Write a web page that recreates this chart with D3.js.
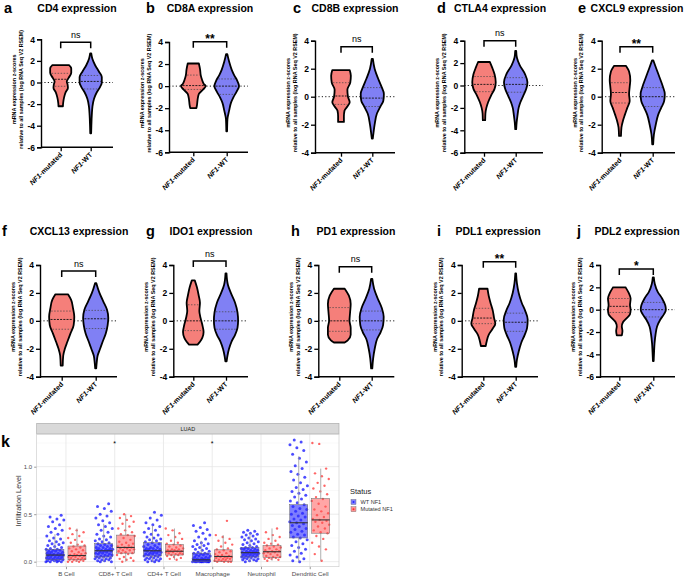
<!DOCTYPE html>
<html><head><meta charset="utf-8">
<script src="https://cdn.jsdelivr.net/npm/d3@7"></script>
<style>body{margin:0;background:#fff}svg{display:block}text{font-family:"Liberation Sans",Arial,Helvetica,sans-serif}</style>
</head><body><svg id="c" width="685" height="579"></svg>
<script>
// ---------------- DATA: violin panels a–j ----------------
const groups = ["NF1-mutated", "NF1-WT"];
const panelLetters = ["a","b","c","d","e","f","g","h","i","j"];
const genes = ["CD4","CD8A","CD8B","CTLA4","CXCL9","CXCL13","IDO1","PD1","PDL1","PDL2"];
const significance = ["ns","**","ns","ns","**","ns","ns","ns","**","*"];
const yMins = [-6,-6,-4,-6,-4,-4,-4,-4,-4,-6];
const yMax = 4;
const yTitleLines = ["mRNA expression z-scores", "relative to all samples (log RNA Seq V2 RSEM)"];
// violin outlines: [z-score, relative density]
const violinMutated = [
 [[-2.2,0.2],[-1.9,0.22],[-1.4,0.3],[-0.9,0.45],[-0.5,0.65],[-0.2,0.62],[0.1,0.55],[0.4,0.7],[0.9,0.95],[1.3,0.95],[1.6,0.75]],
 [[-2.0,0.25],[-1.7,0.3],[-1.2,0.35],[-0.7,0.45],[-0.3,0.8],[0,1.0],[0.2,0.85],[0.6,0.7],[1.0,0.6],[1.5,0.55],[2.05,0.45]],
 [[-1.8,0.25],[-1.4,0.25],[-1.0,0.3],[-0.7,0.55],[-0.4,0.75],[0,0.6],[0.5,0.55],[1.0,0.8],[1.5,0.85],[1.9,0.75]],
 [[-3.1,0.1],[-2.5,0.12],[-2.0,0.2],[-1.5,0.35],[-0.9,0.6],[-0.3,0.9],[0.3,1.0],[1.0,0.9],[1.6,0.7],[2.1,0.5]],
 [[-2.8,0.08],[-2.2,0.12],[-1.7,0.25],[-1.3,0.4],[-0.8,0.6],[-0.3,0.8],[0.2,0.75],[0.7,0.8],[1.2,0.85],[1.8,0.75],[2.2,0.5]],
 [[-3.2,0.08],[-2.5,0.12],[-2.0,0.25],[-1.5,0.45],[-0.9,0.7],[-0.3,0.95],[0.3,1.0],[0.9,0.9],[1.5,0.75],[1.9,0.5]],
 [[-1.7,0.35],[-1.5,0.55],[-1.2,0.75],[-0.8,0.85],[-0.3,0.75],[0.2,0.6],[0.7,0.5],[1.3,0.55],[1.8,0.45],[2.4,0.3],[2.9,0.12]],
 [[-1.55,0.45],[-1.4,0.7],[-1.0,0.95],[-0.5,0.95],[0,0.85],[0.6,0.9],[1.2,0.95],[1.8,0.8],[2.3,0.45]],
 [[-1.8,0.2],[-1.4,0.3],[-1.0,0.45],[-0.6,0.75],[-0.2,1.0],[0.2,0.9],[0.7,0.8],[1.3,0.6],[1.8,0.45],[2.3,0.35]],
 [[-2.3,0.2],[-1.9,0.25],[-1.5,0.2],[-1.1,0.3],[-0.8,0.55],[-0.4,0.85],[0,0.9],[0.4,0.85],[1.0,0.9],[1.5,0.75],[2.0,0.5]]
];
const violinWT = [
 [[-4.7,0.04],[-4,0.06],[-3,0.1],[-2.2,0.16],[-1.5,0.3],[-0.9,0.55],[-0.4,0.85],[0,1],[0.5,1],[1,0.75],[1.6,0.4],[2.2,0.15],[2.7,0.05]],
 [[-4.1,0.03],[-3,0.06],[-2.2,0.2],[-1.5,0.35],[-1.0,0.55],[-0.5,0.8],[0,1.0],[0.5,0.85],[1.0,0.6],[1.5,0.4],[2.2,0.2],[2.9,0.05]],
 [[-3.0,0.04],[-2.6,0.1],[-2.0,0.2],[-1.2,0.4],[-0.7,0.7],[-0.3,0.95],[0.2,1.0],[0.7,0.8],[1.3,0.5],[2.0,0.2],[2.7,0.05]],
 [[-3.9,0.04],[-3.3,0.08],[-2.7,0.15],[-2,0.25],[-1.5,0.4],[-0.9,0.65],[-0.3,0.9],[0.3,1.0],[1.0,0.8],[1.8,0.35],[2.5,0.1],[3.1,0.04]],
 [[-3.4,0.04],[-2.7,0.1],[-2,0.25],[-1.3,0.45],[-0.8,0.7],[-0.3,0.95],[0.2,1.0],[0.7,0.85],[1.3,0.6],[2.0,0.3],[2.6,0.05]],
 [[-3.4,0.04],[-3.0,0.08],[-2.5,0.15],[-2.0,0.35],[-1.5,0.55],[-0.9,0.8],[-0.3,0.95],[0.2,1.0],[0.8,0.9],[1.4,0.6],[2.0,0.3],[2.7,0.05]],
 [[-2.9,0.05],[-2.5,0.12],[-2.0,0.25],[-1.5,0.45],[-1.0,0.75],[-0.5,0.95],[0,1.0],[0.6,0.95],[1.3,0.75],[2.0,0.4],[2.6,0.15],[3.4,0.04]],
 [[-3.4,0.05],[-2.7,0.12],[-2.0,0.25],[-1.3,0.45],[-0.8,0.75],[-0.3,0.95],[0.3,1.0],[0.9,0.85],[1.6,0.5],[2.3,0.2],[3.0,0.05]],
 [[-3.3,0.04],[-2.8,0.1],[-2.2,0.25],[-1.6,0.45],[-1.0,0.75],[-0.5,0.95],[0.1,1.0],[0.7,0.8],[1.3,0.5],[2.0,0.25],[2.7,0.1],[3.4,0.03]],
 [[-4.6,0.03],[-3.8,0.06],[-3,0.1],[-2.2,0.18],[-1.5,0.3],[-0.9,0.55],[-0.4,0.85],[0,1.0],[0.4,0.95],[1.0,0.7],[1.6,0.35],[2.3,0.12],[2.9,0.04]]
];
// [Q1, median, Q3]
const quartilesMutated = [[-0.35,0.3,0.85],[-0.3,0.05,1.0],[-0.55,0.05,1.0],[-0.55,0.1,0.8],[-0.45,0.3,1.0],[-0.6,0.1,0.7],[-0.7,0,1.15],[-0.75,0,0.95],[-0.2,0.2,0.9],[-0.25,0.3,1.0]];
const quartilesWT = [[-0.6,0.1,0.65],[-0.75,0,0.65],[-0.7,-0.1,0.65],[-0.6,0.1,0.7],[-0.7,0,0.65],[-0.55,0.15,0.75],[-0.6,0,0.65],[-0.65,0,0.7],[-0.75,-0.1,0.55],[-0.65,0,0.65]];

// ---------------- DATA: panel k ----------------
const cellTypes = ["B Cell","CD8+ T Cell","CD4+ T Cell","Macrophage","Neutrophil","Dendritic Cell"];
const statusGroups = ["WT NF1","Mutated NF1"];
const cancerType = "LUAD";
const sigK = ["","*","","*","",""];
const kTicks = [0, 0.5, 1.0];
// box stats [q1, median, q3, lowerWhisker, upperWhisker]
const boxWT = [[0.02,0.07,0.13,0,0.29],[0.05,0.115,0.19,0,0.40],[0.06,0.115,0.20,0,0.38],[0,0.02,0.09,0,0.22],[0.05,0.095,0.15,0,0.30],[0.25,0.41,0.60,0,1.11]];
const boxMut = [[0.02,0.065,0.165,0,0.35],[0.09,0.15,0.28,0,0.50],[0.07,0.11,0.18,0.02,0.35],[0,0.055,0.125,0,0.28],[0.045,0.105,0.17,0.01,0.35],[0.30,0.44,0.665,0.01,0.98]];
const pointsWT = [
 [0,0,0,0,0.01,0.01,0.01,0.02,0.02,0.02,0.03,0.03,0.03,0.04,0.04,0.05,0.05,0.05,0.06,0.06,0.07,0.07,0.07,0.08,0.08,0.08,0.09,0.09,0.1,0.1,0.11,0.11,0.12,0.12,0.13,0.13,0.14,0.15,0.16,0.17,0.18,0.19,0.2,0.21,0.22,0.24,0.25,0.27,0.29,0.31,0.33,0.35,0.37,0.39,0.42,0.44,0.45,0.47,0.49],
 [0,0,0.01,0.01,0.02,0.02,0.03,0.03,0.04,0.04,0.05,0.05,0.06,0.06,0.07,0.07,0.08,0.08,0.09,0.09,0.1,0.1,0.11,0.11,0.12,0.12,0.12,0.13,0.13,0.14,0.14,0.15,0.15,0.16,0.17,0.17,0.18,0.19,0.2,0.21,0.22,0.23,0.24,0.26,0.27,0.29,0.31,0.33,0.35,0.37,0.39,0.41,0.43,0.46,0.48,0.5,0.53,0.56,0.58,0.61],
 [0,0,0.01,0.01,0.02,0.02,0.03,0.03,0.04,0.04,0.05,0.05,0.06,0.06,0.07,0.07,0.08,0.08,0.09,0.09,0.1,0.1,0.11,0.11,0.11,0.12,0.12,0.13,0.13,0.14,0.14,0.15,0.15,0.16,0.17,0.18,0.19,0.2,0.21,0.22,0.23,0.24,0.25,0.26,0.28,0.29,0.31,0.33,0.35,0.37,0.39,0.41,0.44,0.46,0.49,0.52],
 [0,0,0,0,0,0,0,0,0,0,0.01,0.01,0.01,0.01,0.02,0.02,0.02,0.02,0.03,0.03,0.03,0.04,0.04,0.05,0.05,0.06,0.06,0.07,0.07,0.08,0.08,0.09,0.09,0.1,0.11,0.12,0.13,0.14,0.15,0.16,0.17,0.18,0.19,0.2,0.22,0.24,0.26,0.28,0.3,0.32,0.34,0.36,0.38,0.41],
 [0,0.01,0.01,0.02,0.02,0.03,0.03,0.04,0.04,0.05,0.05,0.05,0.06,0.06,0.07,0.07,0.07,0.08,0.08,0.09,0.09,0.09,0.1,0.1,0.1,0.11,0.11,0.12,0.12,0.13,0.13,0.14,0.14,0.15,0.15,0.16,0.17,0.18,0.19,0.2,0.21,0.22,0.23,0.24,0.25,0.26,0.27,0.28,0.29,0.3,0.31,0.32,0.33],
 [0,0.01,0.03,0.05,0.07,0.09,0.11,0.13,0.15,0.17,0.19,0.21,0.23,0.25,0.26,0.28,0.29,0.31,0.32,0.34,0.35,0.37,0.38,0.4,0.41,0.42,0.44,0.45,0.47,0.48,0.5,0.51,0.53,0.55,0.56,0.58,0.6,0.62,0.64,0.66,0.68,0.7,0.72,0.74,0.76,0.78,0.8,0.83,0.86,0.89,0.92,0.95,0.98,1.01,1.05,1.09,1.13,1.17,1.2,1.23,1.26,1.28]
];
const pointsMut = [
 [0,0,0,0.01,0.01,0.02,0.02,0.02,0.03,0.03,0.04,0.04,0.05,0.05,0.06,0.06,0.06,0.07,0.07,0.08,0.08,0.09,0.1,0.11,0.12,0.13,0.14,0.15,0.16,0.17,0.18,0.2,0.21,0.23,0.25,0.27,0.29,0.31,0.33,0.35],
 [0,0.01,0.02,0.03,0.04,0.05,0.07,0.08,0.09,0.09,0.1,0.11,0.12,0.12,0.13,0.14,0.14,0.15,0.15,0.16,0.17,0.18,0.19,0.2,0.21,0.23,0.25,0.27,0.28,0.29,0.31,0.33,0.35,0.37,0.4,0.42,0.44,0.46,0.48,0.5],
 [0.02,0.03,0.04,0.05,0.06,0.07,0.07,0.08,0.08,0.09,0.09,0.1,0.1,0.11,0.11,0.11,0.12,0.12,0.13,0.13,0.14,0.15,0.16,0.17,0.18,0.19,0.2,0.22,0.24,0.26,0.28,0.3,0.33,0.35],
 [0,0,0,0,0.01,0.01,0.02,0.02,0.03,0.03,0.04,0.04,0.05,0.05,0.05,0.06,0.06,0.07,0.08,0.09,0.1,0.11,0.12,0.13,0.14,0.16,0.18,0.2,0.22,0.24,0.26,0.28,0.43],
 [0.01,0.02,0.03,0.03,0.04,0.04,0.05,0.05,0.06,0.07,0.08,0.09,0.1,0.1,0.11,0.11,0.12,0.13,0.14,0.15,0.16,0.17,0.18,0.19,0.2,0.22,0.24,0.26,0.28,0.31,0.35],
 [0.01,0.08,0.13,0.16,0.2,0.24,0.27,0.3,0.31,0.33,0.35,0.37,0.39,0.41,0.42,0.43,0.44,0.45,0.47,0.49,0.51,0.53,0.55,0.58,0.61,0.64,0.66,0.68,0.71,0.74,0.77,0.8,0.83,0.87,0.9,0.93,0.98,1.24,1.25]
];

// ---------------- LAYOUT (positions only) ----------------
const layouts = [
 {lx:4,   ty:12,  tx:77,  ax:41,    yt:39.3, yb:147.3, xe:113,   c1:60.7,  c2:90.7,  br:42.3},
 {lx:146, ty:12,  tx:210, ax:169,   yt:42,   yb:152.3, xe:248,   c1:193.3, c2:226.7, br:41.7},
 {lx:293, ty:12,  tx:355, ax:315,   yt:40.7, yb:152.7, xe:395,   c1:341,   c2:372.3, br:46.7},
 {lx:437, ty:12,  tx:500, ax:464.3, yt:40.7, yb:152.7, xe:543,   c1:484,   c2:515.7, br:40.7},
 {lx:578, ty:12,  tx:637, ax:601.7, yt:40.7, yb:152.7, xe:675,   c1:620,   c2:652.7, br:46.7},
 {lx:2,   ty:235, tx:79,  ax:40,    yt:265,  yb:376.7, xe:117,   c1:61.7,  c2:95.7,  br:271},
 {lx:146, ty:235, tx:211, ax:173.3, yt:265,  yb:376.7, xe:248,   c1:193.3, c2:226,   br:261},
 {lx:291, ty:235, tx:356, ax:318.3, yt:265,  yb:376.7, xe:394.3, c1:339.3, c2:371.7, br:266.7},
 {lx:437, ty:235, tx:498, ax:461.7, yt:265,  yb:376.7, xe:538,   c1:483.3, c2:515.7, br:261.7},
 {lx:577, ty:235, tx:637, ax:600,   yt:265,  yb:376.7, xe:675,   c1:619.3, c2:653.3, br:269}
];
const colMut = "#f57f7a", colWT = "#8080f4";

const svg = d3.select("#c");

function widthAt(prof, v){
  for (let k=0;k<prof.length-1;k++){
    const a=prof[k], b=prof[k+1];
    if (v>=a[0] && v<=b[0]) return a[1]+(b[1]-a[1])*(v-a[0])/(b[0]-a[0]);
  }
  return 0;
}

layouts.forEach((L,i)=>{
  const g = svg.append("g");
  const y = d3.scaleLinear().domain([yMins[i], yMax]).range([L.yb, L.yt]);
  const x = d3.scaleOrdinal().domain(groups).range([L.c1, L.c2]);
  const hw = 0.37*(L.c2-L.c1);

  // letter & title
  g.append("text").attr("x",L.lx).attr("y",L.ty+1).attr("font-size",14.5).attr("font-weight","bold").text(panelLetters[i]);
  g.append("text").attr("x",L.tx).attr("y",L.ty).attr("text-anchor","middle").attr("font-size",10.5).attr("font-weight","bold").text(genes[i]+" expression");

  // zero dotted line
  g.append("line").attr("x1",L.ax).attr("x2",L.xe).attr("y1",y(0)).attr("y2",y(0))
    .attr("stroke","#000").attr("stroke-width",0.9).attr("stroke-dasharray","1.2,2.2");

  // violins
  [[violinMutated[i],quartilesMutated[i],groups[0],colMut],[violinWT[i],quartilesWT[i],groups[1],colWT]].forEach(([prof,qs,grp,col])=>{
    const cx = x(grp);
    const area = d3.area().curve(d3.curveMonotoneY).y(d=>y(d[0])).x0(d=>cx-d[1]*hw).x1(d=>cx+d[1]*hw);
    g.append("path").attr("d",area(prof)).attr("fill",col).attr("stroke","#000").attr("stroke-width",1.8).attr("stroke-linejoin","round");
    qs.forEach((q,k)=>{
      const w = Math.max(0, widthAt(prof,q)*hw-1.2);
      g.append("line").attr("x1",cx-w).attr("x2",cx+w).attr("y1",y(q)).attr("y2",y(q))
        .attr("stroke", k===1 ? "#111" : "#444").attr("stroke-width", k===1?0.9:0.7)
        .attr("stroke-dasharray", k===1 ? "2,1.2" : "1.5,1.5");
    });
  });

  // y axis
  const ya = g.append("g").attr("transform",`translate(${L.ax},0)`)
    .call(d3.axisLeft(y).tickValues(d3.range(yMins[i], yMax+1, 2)).tickSize(4).tickPadding(2).tickFormat(d=>String(d)));
  ya.select(".domain").attr("stroke-width",1.4);
  ya.selectAll(".tick line").attr("stroke-width",1.3);
  ya.selectAll(".tick text").attr("font-size",8.5).attr("font-weight","bold").attr("font-family",'"Liberation Sans",Arial,sans-serif');

  // x axis
  const xa = g.append("g").attr("transform",`translate(0,${L.yb})`)
    .call(d3.axisBottom(x).tickSize(4).tickSizeOuter(0).tickFormat(""));
  xa.select(".domain").attr("d",`M${L.ax},0H${L.xe}`).attr("stroke-width",1.4);
  xa.selectAll(".tick line").attr("stroke-width",1.3);
  groups.forEach(grp=>{
    const t = g.append("text").attr("text-anchor","end").attr("font-size",7).attr("font-weight","bold")
      .attr("transform",`translate(${x(grp)+2},${L.yb+8}) rotate(-45)`);
    t.append("tspan").attr("font-style","italic").text("NF1");
    t.append("tspan").text(grp.replace("NF1",""));
  });

  // y title
  const cy = (L.yt+L.yb)/2 - 4;
  yTitleLines.forEach((s,k)=>{
    g.append("text").attr("transform",`translate(${L.ax-25+k*6.5},${cy}) rotate(-90)`)
      .attr("text-anchor","middle").attr("font-size",5.4).attr("font-weight","bold").text(s);
  });

  // bracket + significance
  g.append("path").attr("d",`M${L.c1},${L.br+6}V${L.br}H${L.c2}V${L.br+6}`)
    .attr("fill","none").attr("stroke","#000").attr("stroke-width",1.5);
  const sig = significance[i];
  if (sig==="ns"){
    g.append("text").attr("x",(L.c1+L.c2)/2).attr("y",L.br-4.5).attr("text-anchor","middle").attr("font-size",9).text(sig);
  } else {
    g.append("text").attr("x",(L.c1+L.c2)/2).attr("y",L.br+1).attr("text-anchor","middle").attr("font-size",12).attr("font-weight","bold").text(sig);
  }
});

// ---------------- Panel k ----------------
(function(){
  const K = {x0:36.7, x1:339, top:434, bot:566.7, stripTop:423.3};
  const g = svg.append("g");
  const xK = d3.scalePoint().domain(cellTypes).range([K.x0,K.x1]).padding(0.6);
  const yK = d3.scaleLinear().domain([0,1]).range([561.7,466.7]);
  const dodge = 11, bw = 18;

  g.append("text").attr("x",1).attr("y",447).attr("font-size",16).attr("font-weight","bold").text("k");

  // panel bg & grid
  g.append("rect").attr("x",K.x0).attr("y",K.top).attr("width",K.x1-K.x0).attr("height",K.bot-K.top).attr("fill","#fff");
  [0.25,0.75,1.25].forEach(v=>g.append("line").attr("x1",K.x0).attr("x2",K.x1).attr("y1",yK(v)).attr("y2",yK(v)).attr("stroke","#f2f2f2").attr("stroke-width",0.5));
  kTicks.forEach(v=>g.append("line").attr("x1",K.x0).attr("x2",K.x1).attr("y1",yK(v)).attr("y2",yK(v)).attr("stroke","#e6e6e6").attr("stroke-width",0.8));
  cellTypes.forEach(c=>g.append("line").attr("x1",xK(c)).attr("x2",xK(c)).attr("y1",K.top).attr("y2",K.bot).attr("stroke","#e6e6e6").attr("stroke-width",0.8));

  // strip
  g.append("rect").attr("x",K.x0).attr("y",K.stripTop).attr("width",K.x1-K.x0).attr("height",K.top-K.stripTop)
    .attr("fill","#d9d9d9").attr("stroke","#a6a6a6").attr("stroke-width",0.6);
  g.append("text").attr("x",(K.x0+K.x1)/2).attr("y",K.stripTop+7.5).attr("text-anchor","middle").attr("font-size",5.5).attr("fill","#1a1a1a").text(cancerType);

  // points
  const drawGroup = (pts, off, col, r, op) => {
    cellTypes.forEach((c,ci)=>{
      const cx = xK(c)+off;
      g.append("g").selectAll("circle").data(pts[ci]).join("circle")
        .attr("cx",(d,j)=>cx + (((j*0.6180339887+ci*0.31)%1)-0.5)*18)
        .attr("cy",d=>yK(d)).attr("r",r).attr("fill",col).attr("fill-opacity",op);
    });
  };
  drawGroup(pointsWT, -dodge, "#0000ff", 1.5, 0.7);
  drawGroup(pointsMut, dodge, "#ff0000", 1.2, 0.6);

  // boxes
  const drawBoxes = (stats, off, col, op) => {
    cellTypes.forEach((c,ci)=>{
      const [q1,med,q3,lo,hi] = stats[ci];
      const cx = xK(c)+off;
      g.append("line").attr("x1",cx).attr("x2",cx).attr("y1",yK(q3)).attr("y2",yK(hi)).attr("stroke","#9a9a9a").attr("stroke-width",0.8);
      g.append("line").attr("x1",cx).attr("x2",cx).attr("y1",yK(q1)).attr("y2",yK(lo)).attr("stroke","#9a9a9a").attr("stroke-width",0.8);
      g.append("rect").attr("x",cx-bw/2).attr("y",yK(q3)).attr("width",bw).attr("height",yK(q1)-yK(q3))
        .attr("fill",col).attr("fill-opacity",op).attr("stroke","#666").attr("stroke-width",0.5);
      g.append("line").attr("x1",cx-bw/2).attr("x2",cx+bw/2).attr("y1",yK(med)).attr("y2",yK(med)).attr("stroke","#333").attr("stroke-width",1.1);
    });
  };
  drawBoxes(boxWT, -dodge, "#2a2aff", 0.6);
  drawBoxes(boxMut, dodge, "#ff4d4d", 0.5);

  // significance
  cellTypes.forEach((c,ci)=>{ if (sigK[ci]) g.append("text").attr("x",xK(c)).attr("y",446).attr("text-anchor","middle").attr("font-size",7).text(sigK[ci]); });

  // axes
  const ya = g.append("g").attr("transform",`translate(${K.x0},0)`).call(d3.axisLeft(yK).tickValues(kTicks).tickSize(2.5).tickPadding(2).tickFormat(d3.format(".1f")));
  ya.select(".domain").remove();
  ya.selectAll(".tick line").attr("stroke","#333").attr("stroke-width",0.5);
  ya.selectAll(".tick text").attr("font-size",6).attr("fill","#4d4d4d").attr("font-family",'"Liberation Sans",Arial,sans-serif');
  const xa = g.append("g").attr("transform",`translate(0,${K.bot})`).call(d3.axisBottom(xK).tickSize(2.5).tickPadding(2));
  xa.select(".domain").remove();
  xa.selectAll(".tick line").attr("stroke","#333").attr("stroke-width",0.5);
  xa.selectAll(".tick text").attr("font-size",6.2).attr("fill","#4d4d4d").attr("font-family",'"Liberation Sans",Arial,sans-serif');
  g.append("rect").attr("x",K.x0).attr("y",K.top).attr("width",K.x1-K.x0).attr("height",K.bot-K.top).attr("fill","none").attr("stroke","#c8c8c8").attr("stroke-width",0.6);

  g.append("text").attr("transform",`translate(21,501) rotate(-90)`).attr("text-anchor","middle").attr("font-size",7.3).attr("fill","#333").text("Infiltration Level");

  // legend
  g.append("text").attr("x",350).attr("y",494).attr("font-size",7.5).attr("fill","#222").text("Status");
  [["#2a2aff","#0000ff"],["#ff4d4d","#ff0000"]].forEach(([bf,pc],k)=>{
    const ky = 499.5 + k*7.2;
    g.append("rect").attr("x",351).attr("y",ky).attr("width",5).attr("height",5).attr("fill",bf).attr("fill-opacity",0.6).attr("stroke","#666").attr("stroke-width",0.4);
    g.append("circle").attr("cx",353.5).attr("cy",ky+2.5).attr("r",1).attr("fill",pc).attr("fill-opacity",0.7);
    g.append("text").attr("x",360.5).attr("y",ky+4.5).attr("font-size",5.6).attr("fill","#333").text(statusGroups[k]);
  });
})();
</script>
</body></html>
